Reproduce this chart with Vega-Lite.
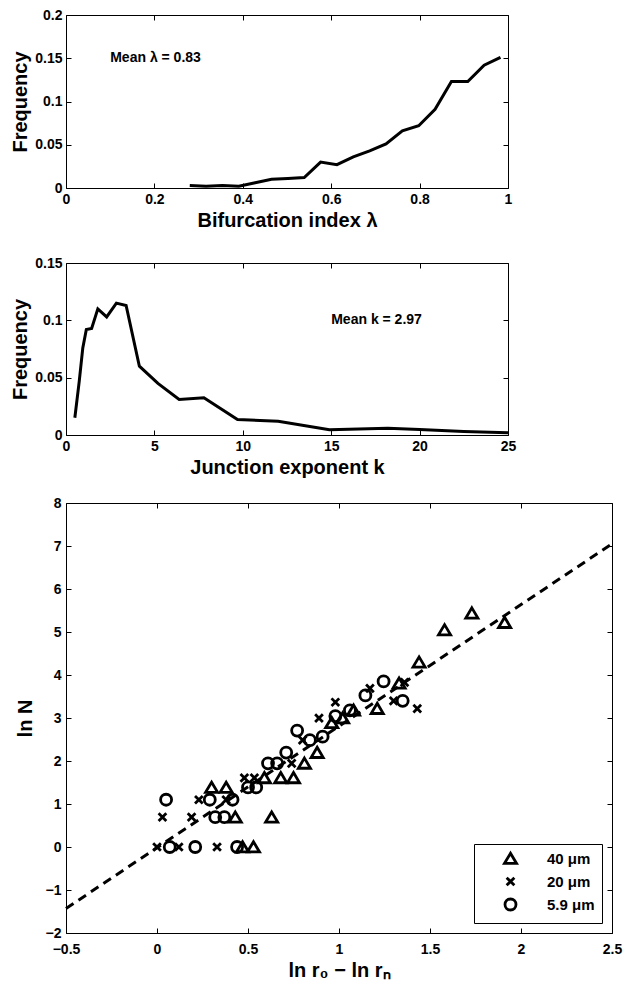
{
  "$schema": "https://vega.github.io/schema/vega-lite/v6.json",
  "padding": {"left": 10, "top": 7, "right": 12, "bottom": 8},
  "background": "white",
  "config": {
    "view": {"stroke": "black", "strokeWidth": 1},
    "axis": {
      "domain": false,
      "grid": false,
      "ticks": true,
      "tickSize": -5,
      "tickColor": "black",
      "tickWidth": 1,
      "labelFont": "Liberation Sans",
      "labelFontWeight": "bold",
      "labelFontSize": 14,
      "labelColor": "black",
      "labelFlush": false,
      "labelOverlap": false,
      "titleFont": "Liberation Sans",
      "titleFontWeight": "bold",
      "titleFontSize": 20,
      "titleColor": "black"
    }
  },
  "resolve": {"legend": {"shape": "independent"}},
  "vconcat": [
    {
      "vconcat": [
        {
          "width": 442,
          "height": 173,
          "layer": [
            {
              "data": {"values": [
                {"lambda": 0.28, "freq": 0.003},
                {"lambda": 0.317, "freq": 0.002},
                {"lambda": 0.354, "freq": 0.003},
                {"lambda": 0.391, "freq": 0.002},
                {"lambda": 0.428, "freq": 0.006},
                {"lambda": 0.465, "freq": 0.010},
                {"lambda": 0.502, "freq": 0.011},
                {"lambda": 0.539, "freq": 0.012},
                {"lambda": 0.576, "freq": 0.030},
                {"lambda": 0.613, "freq": 0.027},
                {"lambda": 0.65, "freq": 0.036},
                {"lambda": 0.687, "freq": 0.043},
                {"lambda": 0.724, "freq": 0.051},
                {"lambda": 0.761, "freq": 0.066},
                {"lambda": 0.798, "freq": 0.072},
                {"lambda": 0.835, "freq": 0.091},
                {"lambda": 0.872, "freq": 0.123},
                {"lambda": 0.909, "freq": 0.123},
                {"lambda": 0.946, "freq": 0.142},
                {"lambda": 0.983, "freq": 0.151}
              ]},
              "mark": {"type": "line", "color": "black", "strokeWidth": 3},
              "encoding": {
                "x": {"field": "lambda", "type": "quantitative",
                      "scale": {"domain": [0, 1], "nice": false},
                      "axis": {"title": "Bifurcation index λ", "values": [0, 0.2, 0.4, 0.6, 0.8, 1], "format": ".1~f", "labelPadding": 9, "titlePadding": 4}},
                "y": {"field": "freq", "type": "quantitative",
                      "scale": {"domain": [0, 0.2], "nice": false},
                      "axis": {"title": "Frequency", "values": [0, 0.05, 0.1, 0.15, 0.2], "format": ".2~f", "labelPadding": 9, "titlePadding": 4}}
              }
            },
            {
              "data": {"values": [{"lambda": 0.1, "freq": 0.15, "label": "Mean λ = 0.83"}]},
              "mark": {"type": "text", "align": "left", "baseline": "middle", "font": "Liberation Sans", "fontWeight": "bold", "fontSize": 14, "color": "black"},
              "encoding": {
                "x": {"field": "lambda", "type": "quantitative",
                      "axis": {"orient": "top", "labels": false, "title": null, "values": [0, 0.2, 0.4, 0.6, 0.8, 1]}},
                "y": {"field": "freq", "type": "quantitative",
                      "axis": {"orient": "right", "labels": false, "title": null, "values": [0, 0.05, 0.1, 0.15, 0.2]}},
                "text": {"field": "label"}
              }
            }
          ],
          "resolve": {"axis": {"x": "independent", "y": "independent"}}
        },
        {
          "width": 442,
          "height": 172,
          "layer": [
            {
              "data": {"values": [
                {"k": 0.5, "freq": 0.015},
                {"k": 0.75, "freq": 0.047},
                {"k": 0.95, "freq": 0.076},
                {"k": 1.15, "freq": 0.092},
                {"k": 1.45, "freq": 0.093},
                {"k": 1.8, "freq": 0.110},
                {"k": 2.3, "freq": 0.103},
                {"k": 2.85, "freq": 0.115},
                {"k": 3.4, "freq": 0.113},
                {"k": 4.15, "freq": 0.060},
                {"k": 5.2, "freq": 0.045},
                {"k": 6.4, "freq": 0.031},
                {"k": 7.8, "freq": 0.0325},
                {"k": 9.7, "freq": 0.0135},
                {"k": 12.0, "freq": 0.012},
                {"k": 14.9, "freq": 0.0045},
                {"k": 18.2, "freq": 0.0058},
                {"k": 20.0, "freq": 0.0048},
                {"k": 22.5, "freq": 0.003},
                {"k": 25, "freq": 0.002}
              ]},
              "mark": {"type": "line", "color": "black", "strokeWidth": 3},
              "encoding": {
                "x": {"field": "k", "type": "quantitative",
                      "scale": {"domain": [0, 25], "nice": false},
                      "axis": {"title": "Junction exponent k", "values": [0, 5, 10, 15, 20, 25], "format": ".0f", "labelPadding": 9, "titlePadding": 4}},
                "y": {"field": "freq", "type": "quantitative",
                      "scale": {"domain": [0, 0.15], "nice": false},
                      "axis": {"title": "Frequency", "values": [0, 0.05, 0.1, 0.15], "format": ".2~f", "labelPadding": 9, "titlePadding": 4}}
              }
            },
            {
              "data": {"values": [{"k": 15, "freq": 0.1, "label": "Mean k = 2.97"}]},
              "mark": {"type": "text", "align": "left", "baseline": "middle", "font": "Liberation Sans", "fontWeight": "bold", "fontSize": 14, "color": "black"},
              "encoding": {
                "x": {"field": "k", "type": "quantitative",
                      "axis": {"orient": "top", "labels": false, "title": null, "values": [0, 5, 10, 15, 20, 25]}},
                "y": {"field": "freq", "type": "quantitative",
                      "axis": {"orient": "right", "labels": false, "title": null, "values": [0, 0.05, 0.1, 0.15]}},
                "text": {"field": "label"}
              }
            }
          ],
          "resolve": {"axis": {"x": "independent", "y": "independent"}}
        }
      ],
      "spacing": 24
    },
    {
      "width": 546,
      "height": 430,
      "layer": [
        {
          "data": {"values": [
            {"dr": 0.47, "lnN": 0, "series": "40 μm"},
            {"dr": 0.53, "lnN": 0, "series": "40 μm"},
            {"dr": 0.43, "lnN": 0.693, "series": "40 μm"},
            {"dr": 0.63, "lnN": 0.693, "series": "40 μm"},
            {"dr": 0.30, "lnN": 1.386, "series": "40 μm"},
            {"dr": 0.38, "lnN": 1.386, "series": "40 μm"},
            {"dr": 0.59, "lnN": 1.609, "series": "40 μm"},
            {"dr": 0.68, "lnN": 1.609, "series": "40 μm"},
            {"dr": 0.75, "lnN": 1.609, "series": "40 μm"},
            {"dr": 0.81, "lnN": 1.946, "series": "40 μm"},
            {"dr": 0.88, "lnN": 2.197, "series": "40 μm"},
            {"dr": 0.96, "lnN": 2.89, "series": "40 μm"},
            {"dr": 1.02, "lnN": 3.0, "series": "40 μm"},
            {"dr": 1.08, "lnN": 3.18, "series": "40 μm"},
            {"dr": 1.21, "lnN": 3.22, "series": "40 μm"},
            {"dr": 1.33, "lnN": 3.81, "series": "40 μm"},
            {"dr": 1.44, "lnN": 4.3, "series": "40 μm"},
            {"dr": 1.58, "lnN": 5.05, "series": "40 μm"},
            {"dr": 1.73, "lnN": 5.44, "series": "40 μm"},
            {"dr": 1.91, "lnN": 5.22, "series": "40 μm"},
            {"dr": 0.0, "lnN": 0, "series": "20 μm"},
            {"dr": 0.12, "lnN": 0, "series": "20 μm"},
            {"dr": 0.33, "lnN": 0, "series": "20 μm"},
            {"dr": 0.03, "lnN": 0.693, "series": "20 μm"},
            {"dr": 0.19, "lnN": 0.693, "series": "20 μm"},
            {"dr": 0.23, "lnN": 1.099, "series": "20 μm"},
            {"dr": 0.38, "lnN": 1.099, "series": "20 μm"},
            {"dr": 0.48, "lnN": 1.609, "series": "20 μm"},
            {"dr": 0.535, "lnN": 1.609, "series": "20 μm"},
            {"dr": 0.74, "lnN": 1.946, "series": "20 μm"},
            {"dr": 0.80, "lnN": 2.485, "series": "20 μm"},
            {"dr": 0.89, "lnN": 2.996, "series": "20 μm"},
            {"dr": 0.98, "lnN": 3.367, "series": "20 μm"},
            {"dr": 1.17, "lnN": 3.689, "series": "20 μm"},
            {"dr": 1.30, "lnN": 3.40, "series": "20 μm"},
            {"dr": 1.36, "lnN": 3.83, "series": "20 μm"},
            {"dr": 1.43, "lnN": 3.219, "series": "20 μm"},
            {"dr": 0.07, "lnN": 0, "series": "5.9 μm"},
            {"dr": 0.21, "lnN": 0, "series": "5.9 μm"},
            {"dr": 0.44, "lnN": 0, "series": "5.9 μm"},
            {"dr": 0.05, "lnN": 1.099, "series": "5.9 μm"},
            {"dr": 0.29, "lnN": 1.099, "series": "5.9 μm"},
            {"dr": 0.415, "lnN": 1.099, "series": "5.9 μm"},
            {"dr": 0.32, "lnN": 0.693, "series": "5.9 μm"},
            {"dr": 0.37, "lnN": 0.693, "series": "5.9 μm"},
            {"dr": 0.50, "lnN": 1.386, "series": "5.9 μm"},
            {"dr": 0.545, "lnN": 1.386, "series": "5.9 μm"},
            {"dr": 0.61, "lnN": 1.946, "series": "5.9 μm"},
            {"dr": 0.66, "lnN": 1.946, "series": "5.9 μm"},
            {"dr": 0.71, "lnN": 2.197, "series": "5.9 μm"},
            {"dr": 0.77, "lnN": 2.708, "series": "5.9 μm"},
            {"dr": 0.84, "lnN": 2.485, "series": "5.9 μm"},
            {"dr": 0.91, "lnN": 2.565, "series": "5.9 μm"},
            {"dr": 0.98, "lnN": 3.045, "series": "5.9 μm"},
            {"dr": 1.06, "lnN": 3.178, "series": "5.9 μm"},
            {"dr": 1.145, "lnN": 3.526, "series": "5.9 μm"},
            {"dr": 1.245, "lnN": 3.85, "series": "5.9 μm"},
            {"dr": 1.35, "lnN": 3.40, "series": "5.9 μm"}
          ]},
          "mark": {"type": "point", "filled": false, "color": "black", "strokeWidth": 2.8, "size": 121, "opacity": 1},
          "encoding": {
            "x": {"field": "dr", "type": "quantitative",
                  "scale": {"domain": [-0.5, 2.5], "nice": false},
                  "axis": {"title": "ln r₀ − ln rₙ", "values": [-0.5, 0, 0.5, 1, 1.5, 2, 2.5], "format": ".1~f", "labelPadding": 14, "titlePadding": 4}},
            "y": {"field": "lnN", "type": "quantitative",
                  "scale": {"domain": [-2, 8], "nice": false},
                  "axis": {"title": "ln N", "values": [-2, -1, 0, 1, 2, 3, 4, 5, 6, 7, 8], "format": ".0f", "labelPadding": 10, "titlePadding": 10}},
            "shape": {"field": "series", "type": "nominal",
                      "scale": {"domain": ["40 μm", "20 μm", "5.9 μm"],
                                "range": ["M0,-0.95L1.1,0.9L-1.1,0.9Z", "M-0.7,-0.7L0.7,0.7M0.7,-0.7L-0.7,0.7", "circle"]},
                      "legend": {"title": null, "orient": "bottom-right", "offset": 10,
                                 "strokeColor": "black", "fillColor": "white", "cornerRadius": 0,
                                 "padding": 7, "rowPadding": 2, "symbolOffset": 22, "labelOffset": 29,
                                 "labelFont": "Liberation Sans", "labelFontWeight": "bold", "labelFontSize": 15, "labelColor": "black",
                                 "symbolStrokeColor": "black", "symbolStrokeWidth": 2.8, "symbolSize": 121, "symbolFillColor": "white"}}
          }
        },
        {
          "data": {"values": [{"dr": -0.5, "lnN": -1.43}, {"dr": 2.5, "lnN": 7.05}]},
          "mark": {"type": "line", "color": "black", "strokeWidth": 3, "strokeDash": [9, 6]},
          "encoding": {
            "x": {"field": "dr", "type": "quantitative",
                  "axis": {"orient": "top", "labels": false, "title": null, "values": [-0.5, 0, 0.5, 1, 1.5, 2, 2.5]}},
            "y": {"field": "lnN", "type": "quantitative",
                  "axis": {"orient": "right", "labels": false, "title": null, "values": [-2, -1, 0, 1, 2, 3, 4, 5, 6, 7, 8]}}
          }
        }
      ],
      "resolve": {"axis": {"x": "independent", "y": "independent"}}
    }
  ],
  "spacing": 17
}
